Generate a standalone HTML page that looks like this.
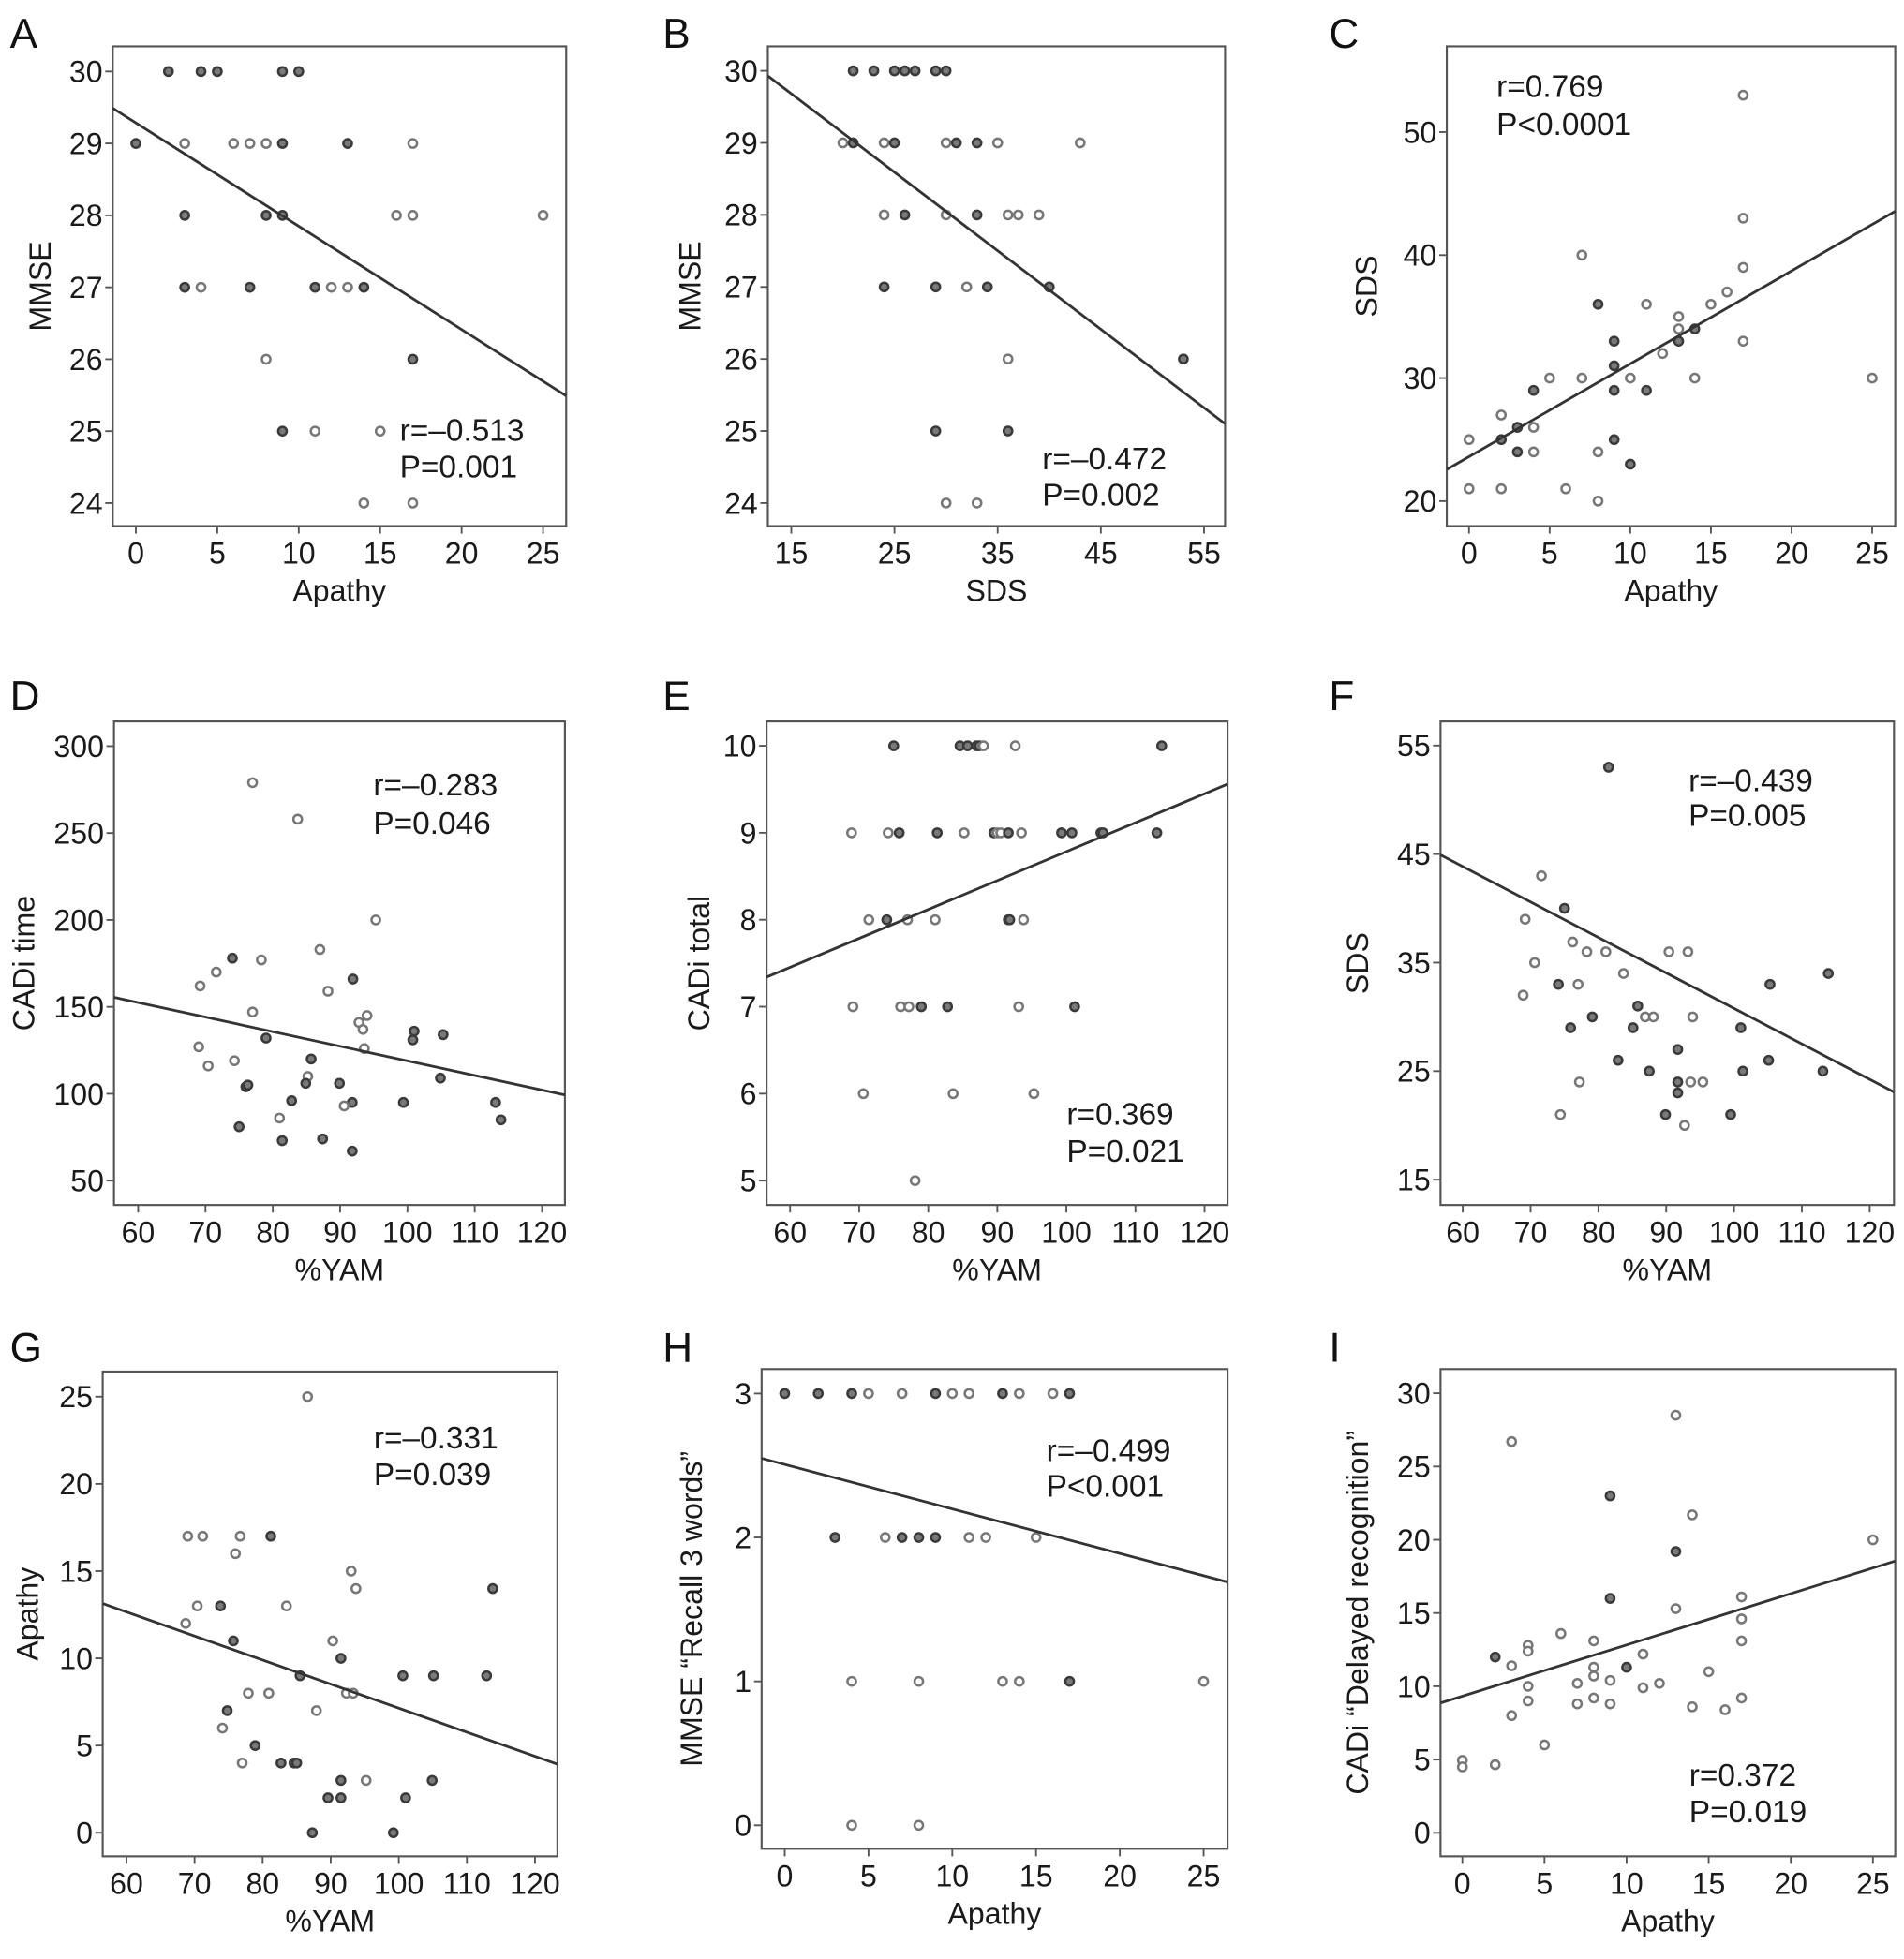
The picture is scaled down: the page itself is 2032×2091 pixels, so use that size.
<!DOCTYPE html>
<html><head><meta charset="utf-8"><style>
html,body{margin:0;padding:0;background:#fff;}
svg{display:block;font-family:"Liberation Sans",Arial,sans-serif;}
</style></head><body>
<svg id="fig" xmlns="http://www.w3.org/2000/svg" width="2032" height="2091" viewBox="0 0 1520 1564" preserveAspectRatio="none"></svg>
<script>
// ---------- DATA ----------
const aX=[2,4,5,9,10,0,3,6,7,8,9,13,17,3,8,9,16,17,25,3,4,7,11,12,13,14,8,17,9,11,15,14,17];
const aY=[30,30,30,30,30,29,29,29,29,29,29,29,29,28,28,28,28,28,28,27,27,27,27,27,27,27,26,26,25,25,25,24,24];
const aDark=[1,1,1,1,1,1,0,0,0,0,1,1,0,1,1,1,0,0,0,1,0,1,1,0,0,1,0,1,1,0,0,0,0];
const aLine=[-1.42,29.49,26.42,25.49];
const bX=[21,23,25,26,27,29,30,20,21,24,25,30,31,33,35,43,24,26,30,33,36,37,39,24,29,32,34,40,36,53,29,36,30,33];
const bY=[30,30,30,30,30,30,30,29,29,29,29,29,29,29,29,29,28,28,28,28,28,28,28,27,27,27,27,27,26,26,25,25,24,24];
const bDark=[1,1,1,1,1,1,1,0,1,0,1,0,1,1,0,0,0,1,0,1,0,0,0,1,1,0,1,1,0,1,1,1,0,0];
const bLine=[12.73,29.93,57.04,25.1];
const cX=[17,17,7,17,8,11,15,16,13,13,14,13,17,9,12,9,10,5,7,14,25,4,9,11,2,4,3,2,0,3,4,8,9,10,0,2,6,8];
const cY=[53,43,40,39,36,36,36,37,35,34,34,33,33,33,32,31,30,30,30,30,30,29,29,29,27,26,26,25,25,24,24,24,25,23,21,21,21,20];
const cDark=[0,0,0,0,1,0,0,0,0,0,1,1,0,1,0,1,0,0,0,0,0,1,1,1,0,0,1,1,0,1,0,0,1,1,0,0,0,0];
const cLine=[-1.38,22.57,26.43,43.57];
const dX=[77,83.7,95.3,74,87,78.3,71.6,69.2,77,91.9,88.2,92.8,94,93.4,79,93.6,101,100.8,105.3,69,70.4,74.3,76,76.3,85.7,85.2,84.9,89.9,82.8,91.8,90.6,81,99.4,104.9,113.1,113.9,75,81.4,87.4,91.8];
const dY=[279,258,200,178,183,177,170,162,147,166,159,141,145,137,132,126,136,131,134,127,116,119,104,105,120,110,106,106,96,95,93,86,95,109,95,85,81,73,74,67];
const dDark=[0,0,0,1,0,0,0,0,0,1,0,0,0,0,1,0,1,1,1,0,0,0,1,1,1,0,1,1,1,1,0,0,1,1,1,1,1,1,1,1];
const dLine=[56.41,155.5,123.4,99.3];
const eX=[75,84.6,85.7,87,87.4,88,92.6,113.8,68.9,74.2,75.8,81.3,85.2,89.5,90,90.5,91.6,93.5,99.3,100.8,105,105.3,113.1,71.4,74,77,81,91.6,91.8,93.8,69.1,76,77.2,79,82.8,93.1,101.2,70.6,83.6,95.3,78.1];
const eY=[10,10,10,10,10,10,10,10,9,9,9,9,9,9,9,9,9,9,9,9,9,9,9,8,8,8,8,8,8,8,7,7,7,7,7,7,7,6,6,6,5];
const eDark=[1,1,1,1,1,0,0,1,0,0,1,1,0,1,0,0,1,0,1,1,1,1,1,0,1,0,0,1,1,0,0,0,0,1,1,0,1,0,0,0,0];
const eLine=[56.6,7.34,123.34,9.56];
const fX=[81.5,71.6,75,69.2,76.2,78.3,81.1,90.4,93.2,70.6,74.1,77,83.7,113.9,105.3,68.9,85.8,86.9,88.1,93.9,79.1,75.9,85.1,101,82.9,87.5,91.7,91.7,91.7,93.6,95.4,89.9,99.5,101.3,105.1,113.1,74.4,77.2,92.7];
const fY=[53,43,40,39,36.9,36,36,36,36,35,33,33,34,34,33,32,31,30,30,30,30,29,29,29,26,25,27,24,23,24,24,21,21,25,26,25,21,24,20];
const fDark=[1,0,1,0,0,0,0,0,0,0,1,0,0,1,1,0,1,0,0,0,1,1,1,1,1,1,1,1,1,0,0,1,1,1,1,1,0,0,0];
const fLine=[56.72,44.93,123.58,23.07];
const gX=[86.6,69,71.2,76.7,81.2,76,93,93.7,113.8,70.4,73.8,83.5,68.7,75.7,90.3,91.5,85.5,100.6,105.1,112.9,77.9,80.9,92.3,93.3,87.9,74.8,74.1,78.9,77,82.7,84.6,85,91.5,95.2,104.9,89.6,91.5,101,87.3,99.2];
const gY=[25,17,17,17,17,16,15,14,14,13,13,13,12,11,11,10,9,9,9,9,8,8,8,8,7,7,6,5,4,4,4,4,3,3,3,2,2,2,0,0];
const gDark=[0,0,0,0,1,0,0,0,1,0,1,0,0,1,0,1,1,1,1,1,0,0,0,0,0,1,0,1,0,1,1,1,1,0,1,1,1,1,1,1];
const gLine=[56.51,13.14,123.3,3.93];
const hX=[0,2,4,5,7,9,10,11,13,14,16,17,3,6,7,8,9,11,12,15,4,8,13,14,17,25,4,8];
const hY=[3,3,3,3,3,3,3,3,3,3,3,3,2,2,2,2,2,2,2,2,1,1,1,1,1,1,0,0];
const hDark=[1,1,1,0,0,1,0,0,1,0,0,1,1,0,1,1,1,0,0,0,0,0,0,0,1,0,0,0];
const hLine=[-1.38,2.55,26.43,1.69];
const iX=[3,13,9,14,25,13,9,17,13,17,6,8,17,4,4,2,11,3,8,10,15,8,7,12,9,4,11,4,7,8,9,14,16,17,3,5,0,0,2];
const iY=[26.7,28.5,23,21.7,20,19.2,16,16.1,15.3,14.6,13.6,13.1,13.1,12.8,12.4,12,12.2,11.4,11.3,11.3,11,10.7,10.2,10.2,10.4,10,9.9,9,8.8,9.2,8.8,8.6,8.4,9.2,8,6,4.95,4.5,4.65];
const iDark=[0,0,1,0,0,1,1,0,0,0,0,0,0,0,0,1,0,0,0,1,0,0,0,0,0,0,0,0,0,0,0,0,0,0,0,0,0,0,0];
const iLine=[-1.33,8.86,26.36,18.55];
const apathyTicks=[0,5,10,15,20,25];
const yamTicks=[60,70,80,90,100,110,120];
const mmseTicks=[24,25,26,27,28,29,30];
const sdsXTicks=[15,25,35,45,55];
const cYTicks=[20,30,40,50];
const dYTicks=[50,100,150,200,250,300];
const eYTicks=[5,6,7,8,9,10];
const fYTicks=[15,25,35,45,55];
const gYTicks=[0,5,10,15,20,25];
const hYTicks=[0,1,2,3];
const iYTicks=[0,5,10,15,20,25,30];

// ---------- DRAW ----------
const NS="http://www.w3.org/2000/svg";
const svg=document.getElementById('fig');
function mk(tag,attrs,parent){const e=document.createElementNS(NS,tag);for(const k in attrs)e.setAttribute(k,attrs[k]);(parent||svg).appendChild(e);return e;}

const panels=[
 {id:'a',L:'A',lx:8,ly:38,f:[90,37,452,420],xd:[-1.42,26.42],yd:[23.68,30.35],X:aX,Y:aY,D:aDark,ln:aLine,xt:apathyTicks,yt:mmseTicks,xl:'Apathy',yl:'MMSE',yo:58,s:[0.633,0.822,0.898],r:'r=–0.513',p:'P=0.001'},
 {id:'b',L:'B',lx:529,ly:38,f:[613,37,978,420],xd:[12.73,57.04],yd:[23.68,30.34],X:bX,Y:bY,D:bDark,ln:bLine,xt:sdsXTicks,yt:mmseTicks,xl:'SDS',yl:'MMSE',yo:62,s:[0.6,0.882,0.957],r:'r=–0.472',p:'P=0.002'},
 {id:'c',L:'C',lx:1061,ly:38,f:[1155,37,1513,420],xd:[-1.38,26.43],yd:[17.97,56.97],X:cX,Y:cY,D:cDark,ln:cLine,xt:apathyTicks,yt:cYTicks,xl:'Apathy',yl:'SDS',yo:64,s:[0.111,0.106,0.185],r:'r=0.769',p:'P<0.0001'},
 {id:'d',L:'D',lx:8,ly:567,f:[91,576,451,962],xd:[56.41,123.4],yd:[36,314.2],X:dX,Y:dY,D:dDark,ln:dLine,xt:yamTicks,yt:dYTicks,xl:'%YAM',yl:'CADi time',yo:72,s:[0.575,0.153,0.232],r:'r=–0.283',p:'P=0.046'},
 {id:'e',L:'E',lx:529,ly:567,f:[612,576,980,962],xd:[56.6,123.34],yd:[4.72,10.28],X:eX,Y:eY,D:eDark,ln:eLine,xt:yamTicks,yt:eYTicks,xl:'%YAM',yl:'CADi total',yo:54,s:[0.651,0.834,0.911],r:'r=0.369',p:'P=0.021'},
 {id:'f',L:'F',lx:1061,ly:567,f:[1150,576,1512,962],xd:[56.72,123.58],yd:[12.67,57.22],X:fX,Y:fY,D:fDark,ln:fLine,xt:yamTicks,yt:fYTicks,xl:'%YAM',yl:'SDS',yo:66,s:[0.547,0.144,0.216],r:'r=–0.439',p:'P=0.005'},
 {id:'g',L:'G',lx:8,ly:1087,f:[82,1095,445,1482],xd:[56.51,123.3],yd:[-1.35,26.44],X:gX,Y:gY,D:gDark,ln:gLine,xt:yamTicks,yt:gYTicks,xl:'%YAM',yl:'Apathy',yo:60,s:[0.596,0.159,0.234],r:'r=–0.331',p:'P=0.039'},
 {id:'h',L:'H',lx:529,ly:1087,f:[608,1093,980,1476],xd:[-1.38,26.43],yd:[-0.163,3.17],X:hX,Y:hY,D:hDark,ln:hLine,xt:apathyTicks,yt:hYTicks,xl:'Apathy',yl:'MMSE “Recall 3 words”',yo:56,s:[0.611,0.192,0.266],r:'r=–0.499',p:'P<0.001'},
 {id:'i',L:'I',lx:1061,ly:1087,f:[1150,1093,1513,1482],xd:[-1.33,26.36],yd:[-1.6,31.65],X:iX,Y:iY,D:iDark,ln:iLine,xt:apathyTicks,yt:iYTicks,xl:'Apathy',yl:'CADi “Delayed recognition”',yo:66,s:[0.547,0.855,0.93],r:'r=0.372',p:'P=0.019'}
];

panels.forEach(P=>{
  const [x0,y0,x1,y1]=P.f;
  const sx=v=>x0+(v-P.xd[0])/(P.xd[1]-P.xd[0])*(x1-x0);
  const sy=v=>y1-(v-P.yd[0])/(P.yd[1]-P.yd[0])*(y1-y0);
  const g=mk('g',{});
  
  
  const lab=mk('text',{x:P.lx,y:P.ly,'font-size':33,fill:'#111'},g);lab.textContent=P.L;
  
  
  const fr=mk('rect',{x:x0,y:y0,width:x1-x0,height:y1-y0,fill:'none',stroke:'#555','stroke-width':1.6},g);
  
  
  P.xt.forEach(t=>{
    const X=sx(t);
    mk('line',{x1:X,y1:y1,x2:X,y2:y1+6,stroke:'#555','stroke-width':1.4},g);
    const tx=mk('text',{x:X,y:y1+30,'font-size':24,'text-anchor':'middle',fill:'#1a1a1a'},g);tx.textContent=t;
    
    
  });
  P.yt.forEach(t=>{
    const Y=sy(t);
    mk('line',{x1:x0-6,y1:Y,x2:x0,y2:Y,stroke:'#555','stroke-width':1.4},g);
    const ty=mk('text',{x:x0-8,y:Y+8.5,'font-size':24,'text-anchor':'end',fill:'#1a1a1a'},g);ty.textContent=t;
    
    
  });
  const xt=mk('text',{x:(x0+x1)/2,y:y1+60,'font-size':24,'text-anchor':'middle',fill:'#1a1a1a'},g);xt.textContent=P.xl;
  
  
  const yc=(y0+y1)/2, yx=x0-P.yo;
  const yt=mk('text',{x:yx,y:yc,'font-size':24,'text-anchor':'middle','dominant-baseline':'central',fill:'#1a1a1a',transform:`rotate(-90 ${yx} ${yc})`},g);yt.textContent=P.yl;
  
  
  P.X.forEach((v,k)=>{
    const dk=P.D[k];
    const c=mk('circle',{cx:sx(v),cy:sy(P.Y[k]),r:3.4,fill:dk?'#7a7a7a':'#fff',stroke:dk?'#3a3a3a':'#777','stroke-width':1.9},g);
    
    
  });
  const l=P.ln;
  const rl=mk('line',{x1:sx(l[0]),y1:sy(l[1]),x2:sx(l[2]),y2:sy(l[3]),stroke:'#333','stroke-width':2.1},g);
  
  
  const tx0=x0+P.s[0]*(x1-x0);
  const t1=mk('text',{x:tx0,y:y0+P.s[1]*(y1-y0),'font-size':25,fill:'#1a1a1a'},g);t1.textContent=P.r;
  
  
  const t2=mk('text',{x:tx0,y:y0+P.s[2]*(y1-y0),'font-size':25,fill:'#1a1a1a'},g);t2.textContent=P.p;
  
  
});
</script>
</body></html>
